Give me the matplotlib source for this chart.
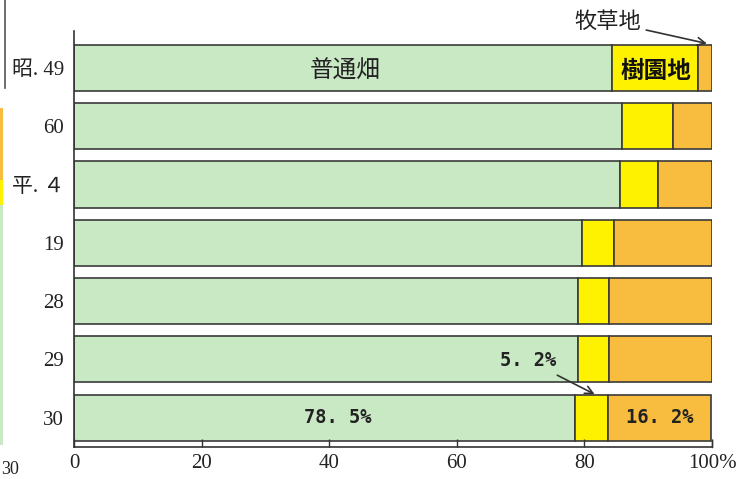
import matplotlib
matplotlib.use("Agg")
import matplotlib.pyplot as plt
from matplotlib.patches import Rectangle
from matplotlib.lines import Line2D
import numpy as np

plt.rcParams['font.family'] = ['Liberation Serif', 'Noto Sans CJK JP', 'DejaVu Sans']

categories = ['昭. 49', '60', '平. ４', '19', '28', '29', '30']
futsu = [84.3, 85.9, 85.6, 79.6, 79.0, 79.0, 78.5]   # 普通畑
juen = [13.5, 8.0, 5.9, 5.0, 4.9, 4.9, 5.2]          # 樹園地
bokuso = [2.2, 6.1, 8.5, 15.4, 16.1, 16.1, 16.2]     # 牧草地
xticks = [0, 20, 40, 60, 80, 100]
xticklabels = ['0', '20', '40', '60', '80', '100%']

c_green = '#c9e8c4'
c_yellow = '#fff200'
c_orange = '#f8bd3e'
c_edge = '#3a3a3a'

fig = plt.figure(figsize=(7.41, 4.79), dpi=100)
ax = fig.add_axes([74/741, 32/479, (712-74)/741, (448-32)/479])

y = np.arange(len(categories))
h = 0.79
ax.barh(y, futsu, height=h, color=c_green, edgecolor=c_edge, linewidth=1.2)
ax.barh(y, juen, left=futsu, height=h, color=c_yellow, edgecolor=c_edge, linewidth=1.2)
left2 = [a + b for a, b in zip(futsu, juen)]
ax.barh(y, bokuso, left=left2, height=h, color=c_orange, edgecolor=c_edge, linewidth=1.2)

ax.set_xlim(0, 100)
ax.set_ylim(6.506, -0.635)
ax.set_yticks(y)
ax.set_yticklabels(categories, fontsize=15, color='#222')
ax.tick_params(axis='y', length=0, pad=7)
ax.set_xticks(xticks)
ax.set_xticklabels(xticklabels, fontsize=15, color='#222')
ax.tick_params(axis='x', direction='in', length=6, width=1.0, pad=5, color='#333')
for s in ['top', 'right']:
    ax.spines[s].set_visible(False)
ax.spines['left'].set_color('#333')
ax.spines['bottom'].set_color('#333')
ax.spines['left'].set_linewidth(1.2)
ax.spines['bottom'].set_linewidth(1.2)
ax.plot([100, 100], [6.39, 6.506], color='#333', lw=1.0, clip_on=False)

jp = ['Noto Sans CJK JP', 'DejaVu Sans']
ax.text(42.5, 0.05, '普通畑', ha='center', va='center', fontsize=17, family=jp, color='#222')
ax.text(91.2, 0.05, '樹園地', ha='center', va='center', fontsize=17, family=jp,
        fontweight='bold', color='#111')
ax.annotate('牧草地', xy=(99.2, -0.42), xytext=(83.6, -0.8), textcoords='data',
            ha='center', va='center', fontsize=16, family=jp, color='#222',
            annotation_clip=False,
            arrowprops=dict(arrowstyle='->', color='#333', lw=1.2,
                            shrinkA=2, shrinkB=0, mutation_scale=14))
ax.annotate('5. 2%', xy=(81.6, 5.6), xytext=(71.2, 5.02), textcoords='data',
            ha='center', va='center', fontsize=13.5, family=['DejaVu Sans Mono'],
            fontweight='bold', color='#222', annotation_clip=False,
            arrowprops=dict(arrowstyle='->', color='#333', lw=1.2,
                            shrinkA=4, shrinkB=0, mutation_scale=14))
ax.text(41.4, 6.0, '78. 5%', ha='center', va='center', fontsize=13.5,
        family=['DejaVu Sans Mono'], fontweight='bold', color='#222')
ax.text(91.8, 6.0, '16. 2%', ha='center', va='center', fontsize=13.5,
        family=['DejaVu Sans Mono'], fontweight='bold', color='#222')

# fragments of a neighbouring figure at the left edge
W, H = 741, 479
fig.add_artist(Line2D([5/W, 5/W], [1, 1 - 88/H], color='#555', lw=1.2))
fig.add_artist(Rectangle((0, 1 - 180/H), 3/W, 72/H, color=c_orange, lw=0))
fig.add_artist(Rectangle((0, 1 - 205/H), 3/W, 25/H, color=c_yellow, lw=0))
fig.add_artist(Rectangle((0, 1 - 445/H), 3/W, 240/H, color=c_green, lw=0))
fig.text(1/W, 1 - 469/H, '30', fontsize=13, va='center', ha='left', color='#222')

fig.savefig('out.png', dpi=100)
